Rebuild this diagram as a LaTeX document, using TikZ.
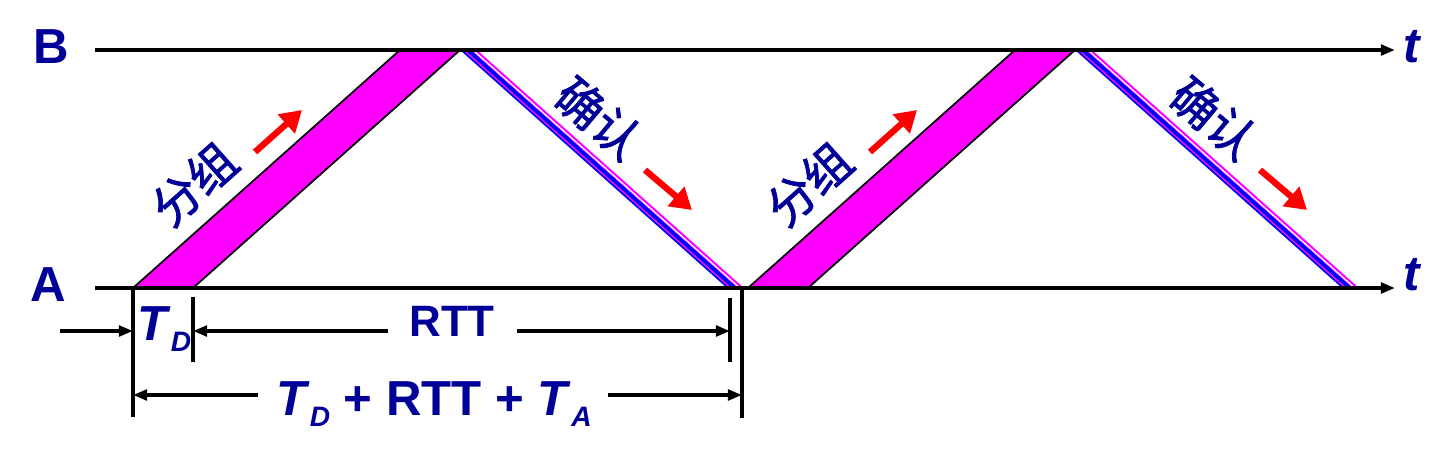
\documentclass[tikz,border=0pt]{standalone}
\usepackage{fontspec}
\setmainfont{Liberation Sans}
\newfontfamily\cjk[FakeBold=1.6]{Noto Sans CJK SC}
\usetikzlibrary{arrows.meta}
\definecolor{navy}{RGB}{0,0,153}
\definecolor{pink}{RGB}{255,0,255}
\definecolor{ackblue}{RGB}{0,0,255}
\newcommand\lowsub[1]{\raisebox{-6.8pt}{\fontsize{16}{16}\selectfont #1}}

\begin{document}
\begin{tikzpicture}[x=0.02cm,y=-0.02cm,>={Triangle[length=8pt,width=6pt]},
  lbl/.style={text=navy,font=\fontsize{28}{30}\selectfont\bfseries,inner sep=0pt},
  cn/.style={text=navy,font=\fontsize{27}{29}\selectfont\cjk,inner sep=0pt},
  dim/.style={line width=2pt},
  axis/.style={line width=2.1pt,->},
  redarrow/.style={red,line width=3.6pt,-{Triangle[length=12pt,width=14pt]}}]
\useasboundingbox (0,0) rectangle (1451,457);
\foreach \o in {0,615}{
  \fill[pink] (133+\o,288) -- (193+\o,288) -- (460+\o,50) -- (400+\o,50) -- cycle;
  \draw[line width=1pt] (133+\o,288) -- (400+\o,50) (193+\o,288) -- (460+\o,50);
  \foreach \a/\b/\c in {0/3/ackblue,3/5/pink,5/11/ackblue,11/12/pink,12/14/white,14/17/pink}
    \fill[\c] (460+\o+\a,50) -- (460+\o+\b,50) -- (727+\o+\b,288) -- (727+\o+\a,288) -- cycle;
  \node[cn,rotate=41.7] (pk\o) at (194+\o,184) {分组};
  \draw[redarrow] (255+\o,152) -- (302+\o,110);
  \node[cn,rotate=-40] (ack\o) at (599+\o,118) {确认};
  \draw[redarrow] (645+\o,170) -- (692+\o,210);
}
\coordinate (B0) at (95,50); \coordinate (B1) at (1395,50);
\coordinate (A0) at (95,288); \coordinate (A1) at (1395,288);
\draw[axis] (B0) -- (B1); \draw[axis] (A0) -- (A1);
\node[lbl] (labB) at (51,47) {B}; \node[lbl] (labA) at (48,285) {A};
\node[lbl,font=\fontsize{28}{30}\selectfont\bfseries\itshape] (tB) at (1412,47) {t};
\node[lbl,font=\fontsize{28}{30}\selectfont\bfseries\itshape] (tA) at (1412,275) {t};
\coordinate (d0) at (133,288); \coordinate (d0e) at (133,417);
\coordinate (d1) at (193,297); \coordinate (d1e) at (193,362);
\coordinate (d2) at (730,298); \coordinate (d2e) at (730,362);
\coordinate (d3) at (742,288); \coordinate (d3e) at (742,418);
\draw[dim] (d0) -- (d0e) (d1) -- (d1e) (d2) -- (d2e) (d3) -- (d3e);
\coordinate (in0) at (60,331);
\draw[dim,->] (in0) -- (d0 |- in0);
\node[lbl,anchor=base west] (td) at (137,340) {\textit{T}\lowsub{\textit{D}}};
\node[lbl,font=\fontsize{25}{27}\selectfont\bfseries] (rtt) at (452,321) {RTT};
\coordinate (r1) at (388,331); \coordinate (r2) at (517,331);
\draw[dim,->] (r1) -- (d1 |- r1); \draw[dim,->] (r2) -- (d2 |- r2);
\node[lbl,anchor=base] (sum) at (434,415) {\textit{T}\lowsub{\textit{D}} + RTT + \textit{T}\lowsub{\textit{A}}};
\coordinate (s1) at (258,395); \coordinate (s2) at (608,395);
\draw[dim,->] (s1) -- (d0 |- s1); \draw[dim,->] (s2) -- (d3 |- s2);
\end{tikzpicture}
\end{document}
